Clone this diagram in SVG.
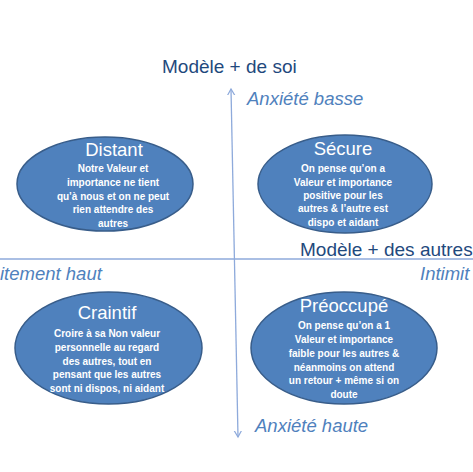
<svg xmlns="http://www.w3.org/2000/svg" width="473" height="472" viewBox="0 0 473 472">
<defs>
<marker id="arr" viewBox="-6 -6 12 12" markerWidth="12" markerHeight="12" refX="0" refY="0" orient="auto-start-reverse" markerUnits="userSpaceOnUse">
<path d="M-7,-4 L0,0 L-7,4" fill="none" stroke="#8EAADB" stroke-width="1.2"/>
</marker>
</defs>
<style>
.ell{fill:#4F81BD;stroke:#385D8A;stroke-width:1.5}
.ttl{font-family:"Liberation Sans",Arial,sans-serif;font-size:18.5px;fill:#FFFFFF;text-anchor:middle}
.bd{font-family:"Liberation Sans",Arial,sans-serif;font-size:10px;font-weight:bold;fill:#FFFFFF;text-anchor:middle}
.axl{font-family:"Liberation Sans",Arial,sans-serif;font-size:19px;fill:#1F497D}
.it{font-family:"Liberation Sans",Arial,sans-serif;font-size:18.5px;font-style:italic;fill:#4F81BD}
.ax{stroke:#8EAADB;stroke-width:1.3;fill:none}
</style>
<rect width="473" height="472" fill="#FFFFFF"/>
<g id="connectors">
<line class="ax" x1="0" y1="259" x2="473" y2="259"/>
<line class="ax" x1="231" y1="89" x2="238" y2="437" marker-start="url(#arr)" marker-end="url(#arr)"/>
</g>
<g id="labels">
<text class="axl" x="162" y="73">Modèle + de soi</text>
<text class="it" x="247" y="105">Anxiété basse</text>
<text class="axl" x="300" y="256">Modèle + des autres</text>
<text class="it" x="0" y="280">itement haut</text>
<text class="it" x="420" y="280">Intimit</text>
<text class="it" x="255" y="432">Anxiété haute</text>
</g>
<g id="distant">
<ellipse class="ell" cx="105" cy="184" rx="88" ry="47"/>
<text class="ttl" x="114" y="156">Distant</text>
<text class="bd" x="113" y="172">Notre Valeur et</text>
<text class="bd" x="113" y="186">importance ne tient</text>
<text class="bd" x="113" y="200">qu’à nous et on ne peut</text>
<text class="bd" x="113" y="213">rien attendre des</text>
<text class="bd" x="113" y="227">autres</text>
</g>
<g id="secure">
<ellipse class="ell" cx="345" cy="184" rx="87" ry="49"/>
<text class="ttl" x="343" y="155">Sécure</text>
<text class="bd" x="343" y="172">On pense qu’on a</text>
<text class="bd" x="343" y="186">Valeur et importance</text>
<text class="bd" x="343" y="199">positive pour les</text>
<text class="bd" x="343" y="212">autres &amp; l’autre est</text>
<text class="bd" x="343" y="226">dispo et aidant</text>
</g>
<g id="craintif">
<ellipse class="ell" cx="108.5" cy="348" rx="93.5" ry="56"/>
<text class="ttl" x="107" y="319">Craintif</text>
<text class="bd" x="107" y="337">Croire à sa Non valeur</text>
<text class="bd" x="107" y="351">personnelle au regard</text>
<text class="bd" x="107" y="365">des autres, tout en</text>
<text class="bd" x="107" y="378">pensant que les autres</text>
<text class="bd" x="107" y="392">sont ni dispos, ni aidant</text>
</g>
<g id="preoccupe">
<ellipse class="ell" cx="344" cy="348" rx="93" ry="56"/>
<text class="ttl" x="344" y="312">Préoccupé</text>
<text class="bd" x="344" y="329">On pense qu’on a 1</text>
<text class="bd" x="344" y="343">Valeur et importance</text>
<text class="bd" x="344" y="357">faible pour les autres &amp;</text>
<text class="bd" x="344" y="371">néanmoins on attend</text>
<text class="bd" x="344" y="384">un retour + même si on</text>
<text class="bd" x="344" y="398">doute</text>
</g>
</svg>
